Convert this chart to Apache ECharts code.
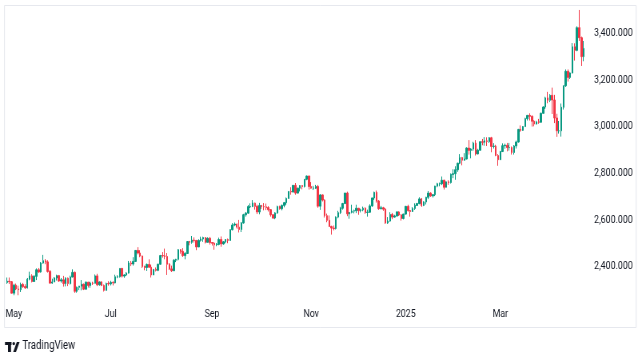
<!DOCTYPE html>
<html>
<head>
<meta charset="utf-8">
<script src="https://cdn.jsdelivr.net/npm/echarts@6/dist/echarts.min.js"></script>
<style>
html,body{margin:0;padding:0;background:#fff;overflow:hidden;width:642px;height:361px;}
#chart{width:803px;height:361px;transform:scaleX(0.7995);transform-origin:0 0;}
</style>
</head>
<body>
<div id="chart"></div>
<script>
// [date, open, close, low, high]
const bars = [
['2024-04-26',2332,2337,2326,2353],['2024-04-29',2337,2335,2325,2353],['2024-04-30',2335,2286,2285,2338],
['2024-05-01',2286,2320,2277,2326],['2024-05-02',2320,2304,2299,2327],['2024-05-03',2304,2301,2277,2318],
['2024-05-06',2301,2323,2291,2331],['2024-05-07',2323,2314,2308,2330],['2024-05-08',2314,2309,2304,2324],
['2024-05-09',2309,2346,2306,2351],['2024-05-10',2346,2360,2341,2378],['2024-05-13',2360,2336,2332,2367],
['2024-05-14',2336,2358,2336,2363],['2024-05-15',2358,2386,2342,2392],['2024-05-16',2386,2377,2372,2394],
['2024-05-17',2377,2415,2374,2419],['2024-05-20',2415,2425,2412,2450],['2024-05-21',2425,2420,2410,2432],
['2024-05-22',2420,2379,2374,2427],['2024-05-23',2379,2329,2326,2385],['2024-05-24',2329,2334,2326,2348],
['2024-05-27',2334,2351,2333,2355],['2024-05-28',2351,2361,2340,2365],['2024-05-29',2361,2338,2334,2364],
['2024-05-30',2338,2343,2331,2351],['2024-05-31',2343,2327,2314,2360],
['2024-06-03',2327,2350,2315,2354],['2024-06-04',2350,2327,2316,2353],['2024-06-05',2327,2355,2323,2361],
['2024-06-06',2355,2375,2354,2388],['2024-06-07',2375,2294,2287,2379],['2024-06-10',2294,2311,2288,2314],
['2024-06-11',2311,2316,2299,2317],['2024-06-12',2316,2324,2298,2342],['2024-06-13',2324,2303,2299,2327],
['2024-06-14',2303,2333,2302,2336],['2024-06-17',2333,2319,2310,2334],['2024-06-18',2319,2329,2309,2335],
['2024-06-19',2329,2328,2321,2335],['2024-06-20',2328,2360,2328,2366],['2024-06-21',2360,2322,2316,2369],
['2024-06-24',2322,2334,2318,2336],['2024-06-25',2334,2319,2316,2337],['2024-06-26',2319,2298,2293,2323],
['2024-06-27',2298,2327,2297,2331],['2024-06-28',2327,2326,2318,2337],
['2024-07-01',2326,2332,2319,2339],['2024-07-02',2332,2330,2319,2337],['2024-07-03',2330,2356,2328,2365],
['2024-07-04',2356,2356,2350,2363],['2024-07-05',2356,2392,2353,2392],['2024-07-08',2392,2359,2353,2394],
['2024-07-09',2359,2364,2352,2367],['2024-07-10',2364,2372,2360,2376],['2024-07-11',2372,2415,2370,2424],
['2024-07-12',2415,2411,2402,2424],['2024-07-15',2411,2422,2404,2440],['2024-07-16',2422,2469,2421,2469],
['2024-07-17',2469,2458,2452,2483],['2024-07-18',2458,2445,2440,2470],['2024-07-19',2445,2400,2394,2447],
['2024-07-22',2400,2396,2384,2404],['2024-07-23',2396,2409,2381,2413],['2024-07-24',2409,2397,2395,2431],
['2024-07-25',2397,2364,2353,2408],['2024-07-26',2364,2387,2364,2390],['2024-07-29',2387,2384,2379,2396],
['2024-07-30',2384,2410,2380,2412],['2024-07-31',2410,2447,2408,2450],
['2024-08-01',2447,2446,2438,2462],['2024-08-02',2446,2443,2431,2477],['2024-08-05',2443,2410,2364,2458],
['2024-08-06',2410,2390,2385,2415],['2024-08-07',2390,2382,2377,2404],['2024-08-08',2382,2427,2382,2432],
['2024-08-09',2427,2431,2419,2433],['2024-08-12',2431,2472,2426,2475],['2024-08-13',2472,2465,2455,2475],
['2024-08-14',2465,2447,2441,2479],['2024-08-15',2447,2456,2431,2462],['2024-08-16',2456,2507,2456,2509],
['2024-08-19',2507,2504,2491,2510],['2024-08-20',2504,2513,2498,2531],['2024-08-21',2513,2512,2503,2525],
['2024-08-22',2512,2484,2470,2514],['2024-08-23',2484,2512,2484,2517],['2024-08-26',2512,2518,2507,2528],
['2024-08-27',2518,2524,2506,2528],['2024-08-28',2524,2504,2499,2526],['2024-08-29',2504,2521,2504,2525],
['2024-08-30',2521,2503,2494,2527],
['2024-09-02',2503,2500,2490,2505],['2024-09-03',2500,2493,2472,2503],['2024-09-04',2493,2495,2487,2501],
['2024-09-05',2495,2516,2491,2524],['2024-09-06',2516,2497,2485,2529],['2024-09-09',2497,2506,2494,2509],
['2024-09-10',2506,2516,2500,2518],['2024-09-11',2516,2512,2500,2520],['2024-09-12',2512,2558,2510,2560],
['2024-09-13',2558,2578,2555,2586],['2024-09-16',2578,2582,2573,2589],['2024-09-17',2582,2569,2562,2584],
['2024-09-18',2569,2559,2546,2600],['2024-09-19',2559,2587,2548,2591],['2024-09-20',2587,2622,2584,2626],
['2024-09-23',2622,2629,2614,2634],['2024-09-24',2629,2657,2626,2664],['2024-09-25',2657,2657,2651,2671],
['2024-09-26',2657,2672,2655,2685],['2024-09-27',2672,2658,2644,2674],['2024-09-30',2658,2634,2625,2665],
['2024-10-01',2634,2662,2624,2673],['2024-10-02',2662,2657,2647,2664],['2024-10-03',2657,2656,2641,2672],
['2024-10-04',2656,2653,2642,2670],['2024-10-07',2653,2644,2636,2659],['2024-10-08',2644,2622,2614,2646],
['2024-10-09',2622,2608,2604,2625],['2024-10-10',2608,2630,2603,2633],['2024-10-11',2630,2657,2626,2661],
['2024-10-14',2657,2648,2644,2661],['2024-10-15',2648,2662,2641,2666],['2024-10-16',2662,2674,2654,2677],
['2024-10-17',2674,2692,2665,2696],['2024-10-18',2692,2722,2691,2722],['2024-10-21',2722,2720,2708,2740],
['2024-10-22',2720,2748,2717,2749],['2024-10-23',2748,2715,2708,2758],['2024-10-24',2715,2736,2713,2738],
['2024-10-25',2736,2747,2722,2749],['2024-10-28',2747,2743,2731,2749],['2024-10-29',2743,2774,2739,2775],
['2024-10-30',2774,2788,2770,2790],['2024-10-31',2788,2743,2730,2789],
['2024-11-01',2743,2736,2734,2762],['2024-11-04',2736,2736,2728,2746],['2024-11-05',2736,2743,2733,2750],
['2024-11-06',2743,2659,2652,2750],['2024-11-07',2659,2707,2643,2711],['2024-11-08',2707,2685,2679,2709],
['2024-11-11',2685,2618,2610,2688],['2024-11-12',2618,2598,2590,2627],['2024-11-13',2598,2572,2570,2619],
['2024-11-14',2572,2565,2537,2575],['2024-11-15',2565,2563,2555,2576],['2024-11-18',2563,2612,2559,2615],
['2024-11-19',2612,2631,2607,2639],['2024-11-20',2631,2650,2625,2656],['2024-11-21',2650,2670,2644,2673],
['2024-11-22',2670,2715,2668,2715],['2024-11-25',2715,2626,2616,2721],['2024-11-26',2626,2632,2605,2633],
['2024-11-27',2632,2638,2628,2665],['2024-11-28',2638,2639,2628,2644],['2024-11-29',2639,2650,2629,2665],
['2024-12-02',2650,2640,2622,2651],['2024-12-03',2640,2643,2632,2648],['2024-12-04',2643,2650,2637,2657],
['2024-12-05',2650,2632,2626,2654],['2024-12-06',2632,2633,2614,2644],['2024-12-09',2633,2660,2630,2667],
['2024-12-10',2660,2694,2656,2695],['2024-12-11',2694,2718,2686,2721],['2024-12-12',2718,2681,2674,2726],
['2024-12-13',2681,2648,2643,2685],['2024-12-16',2648,2652,2645,2660],['2024-12-17',2652,2646,2639,2656],
['2024-12-18',2646,2587,2583,2650],['2024-12-19',2587,2595,2583,2612],['2024-12-20',2595,2623,2592,2633],
['2024-12-23',2623,2612,2603,2630],['2024-12-24',2612,2617,2610,2622],['2024-12-26',2617,2634,2614,2638],
['2024-12-27',2634,2621,2617,2637],['2024-12-30',2621,2606,2597,2625],['2024-12-31',2606,2625,2602,2626],
['2025-01-02',2625,2658,2623,2660],['2025-01-03',2658,2640,2635,2665],['2025-01-06',2640,2636,2614,2642],
['2025-01-07',2636,2649,2634,2655],['2025-01-08',2649,2662,2643,2671],['2025-01-09',2662,2670,2660,2673],
['2025-01-10',2670,2690,2667,2697],['2025-01-13',2690,2662,2656,2694],['2025-01-14',2662,2677,2659,2680],
['2025-01-15',2677,2697,2666,2699],['2025-01-16',2697,2715,2689,2724],['2025-01-17',2715,2703,2699,2718],
['2025-01-20',2703,2708,2696,2711],['2025-01-21',2708,2745,2702,2746],['2025-01-22',2745,2755,2740,2759],
['2025-01-23',2755,2755,2744,2760],['2025-01-24',2755,2770,2749,2786],['2025-01-27',2770,2740,2730,2772],
['2025-01-28',2740,2763,2740,2764],['2025-01-29',2763,2760,2750,2770],['2025-01-30',2760,2795,2756,2799],
['2025-01-31',2795,2798,2779,2817],
['2025-02-03',2798,2815,2772,2830],['2025-02-04',2815,2843,2806,2845],['2025-02-05',2843,2867,2839,2882],
['2025-02-06',2867,2856,2834,2870],['2025-02-07',2856,2861,2854,2886],['2025-02-10',2861,2908,2860,2911],
['2025-02-11',2908,2898,2880,2942],['2025-02-12',2898,2904,2864,2907],['2025-02-13',2904,2929,2896,2935],
['2025-02-14',2929,2883,2876,2942],['2025-02-17',2883,2899,2881,2905],['2025-02-18',2899,2935,2896,2938],
['2025-02-19',2935,2933,2920,2947],['2025-02-20',2933,2939,2918,2955],['2025-02-21',2939,2936,2917,2954],
['2025-02-24',2936,2952,2930,2955],['2025-02-25',2952,2915,2890,2956],['2025-02-26',2915,2916,2906,2929],
['2025-02-27',2916,2876,2873,2922],['2025-02-28',2876,2858,2832,2882],
['2025-03-03',2858,2893,2857,2896],['2025-03-04',2893,2918,2891,2928],['2025-03-05',2918,2920,2905,2927],
['2025-03-06',2920,2910,2894,2930],['2025-03-07',2910,2910,2897,2930],['2025-03-10',2910,2889,2880,2915],
['2025-03-11',2889,2917,2880,2921],['2025-03-12',2917,2934,2906,2940],['2025-03-13',2934,2988,2932,2990],
['2025-03-14',2988,2984,2978,3005],['2025-03-17',2984,3000,2982,3002],['2025-03-18',3000,3034,2999,3038],
['2025-03-19',3034,3048,3026,3050],['2025-03-20',3048,3044,3026,3057],['2025-03-21',3044,3023,3000,3048],
['2025-03-24',3023,3011,3001,3027],['2025-03-25',3011,3020,3009,3025],['2025-03-26',3020,3019,3012,3033],
['2025-03-27',3019,3057,3016,3060],['2025-03-28',3057,3084,3056,3087],['2025-03-31',3084,3123,3076,3128],
['2025-04-01',3123,3113,3100,3149],['2025-04-02',3113,3134,3105,3139],['2025-04-03',3134,3114,3054,3167],
['2025-04-04',3114,3037,3015,3136],['2025-04-07',3037,2982,2956,3055],['2025-04-08',2982,2982,2970,3024],
['2025-04-09',2982,3083,2957,3099],['2025-04-10',3083,3175,3073,3176],['2025-04-11',3175,3237,3170,3245],
['2025-04-14',3237,3211,3193,3245],['2025-04-15',3211,3230,3204,3232],['2025-04-16',3230,3342,3228,3358],
['2025-04-17',3342,3327,3283,3357],['2025-04-21',3327,3424,3323,3430],['2025-04-22',3424,3381,3367,3500],
['2025-04-23',3381,3300,3260,3386],['2025-04-24',3300,3335,3280,3367]
];
const dates = bars.map(b => b[0]);
const ohlc = bars.map(b => [b[1], b[2], b[3], b[4]]);

const xTickDates  = ['2024-05-01','2024-07-01','2024-09-02','2024-11-01','2025-01-02','2025-03-03'];
const xTickLabels = ['May','Jul','Sep','Nov','2025','Mar'];
const yTicks = [2400, 2600, 2800, 3000, 3200, 3400];

const FONT = "Roboto,'Liberation Sans',sans-serif";
const chart = echarts.init(document.getElementById('chart'), null, {renderer:'canvas', width: 803, height: 361});
chart.setOption({
  animation: false,
  backgroundColor: '#ffffff',
  grid: {left: 7.5, right: 71.5, top: 6, bottom: 59, containLabel: false, outerBoundsMode: 'none'},
  xAxis: {
    type: 'category',
    data: dates,
    boundaryGap: true,
    axisLine: {show: false},
    axisTick: {show: false},
    splitLine: {show: false},
    axisLabel: {
      interval: (i, v) => xTickDates.indexOf(v) >= 0,
      formatter: v => { const k = xTickDates.indexOf(v); return k >= 0 ? xTickLabels[k] : ''; },
      color: '#131722', fontSize: 11, fontFamily: FONT, margin: 7, hideOverlap: false
    }
  },
  yAxis: {
    type: 'value',
    position: 'right',
    min: 2248, max: 3517,
    splitNumber: 6,
    axisLine: {show: false},
    axisTick: {show: false},
    splitLine: {show: false},
    axisLabel: {
      margin: 11.5,
      color: '#131722', fontSize: 11, fontFamily: FONT,
      showMinLabel: false, showMaxLabel: false,
      formatter: v => yTicks.indexOf(v) >= 0 ? v.toLocaleString('en-US', {minimumFractionDigits: 3, maximumFractionDigits: 3}) : ''
    }
  },
  series: [{
    type: 'candlestick',
    data: ohlc,
    barWidth: '70%',
    itemStyle: {
      color: '#089981', color0: '#F23645',
      borderColor: '#089981', borderColor0: '#F23645',
      borderColorDoji: '#089981',
      borderWidth: 1
    }
  }],
  graphic: [
    {type: 'rect', shape: {x: 5.6, y: 5.5, width: 790, height: 322}, style: {fill: 'none', stroke: '#e6e8ee', lineWidth: 1}, silent: true},
    {type: 'rect', shape: {x: 6.25, y: 342, width: 8.2, height: 3}, style: {fill: '#131722'}},
    {type: 'rect', shape: {x: 10, y: 342, width: 3.8, height: 10}, style: {fill: '#131722'}},
    {type: 'circle', shape: {cx: 17.2, cy: 343.6, r: 1.7}, style: {fill: '#131722'}},
    {type: 'polygon', shape: {points: [[16.5, 352], [21, 342], [24.5, 342], [20, 352]]}, style: {fill: '#131722'}},
    {type: 'text', left: 28, top: 340, style: {text: 'TradingView', fill: '#131722', fontSize: 12, fontFamily: FONT}}
  ]
});
</script>
</body>
</html>
